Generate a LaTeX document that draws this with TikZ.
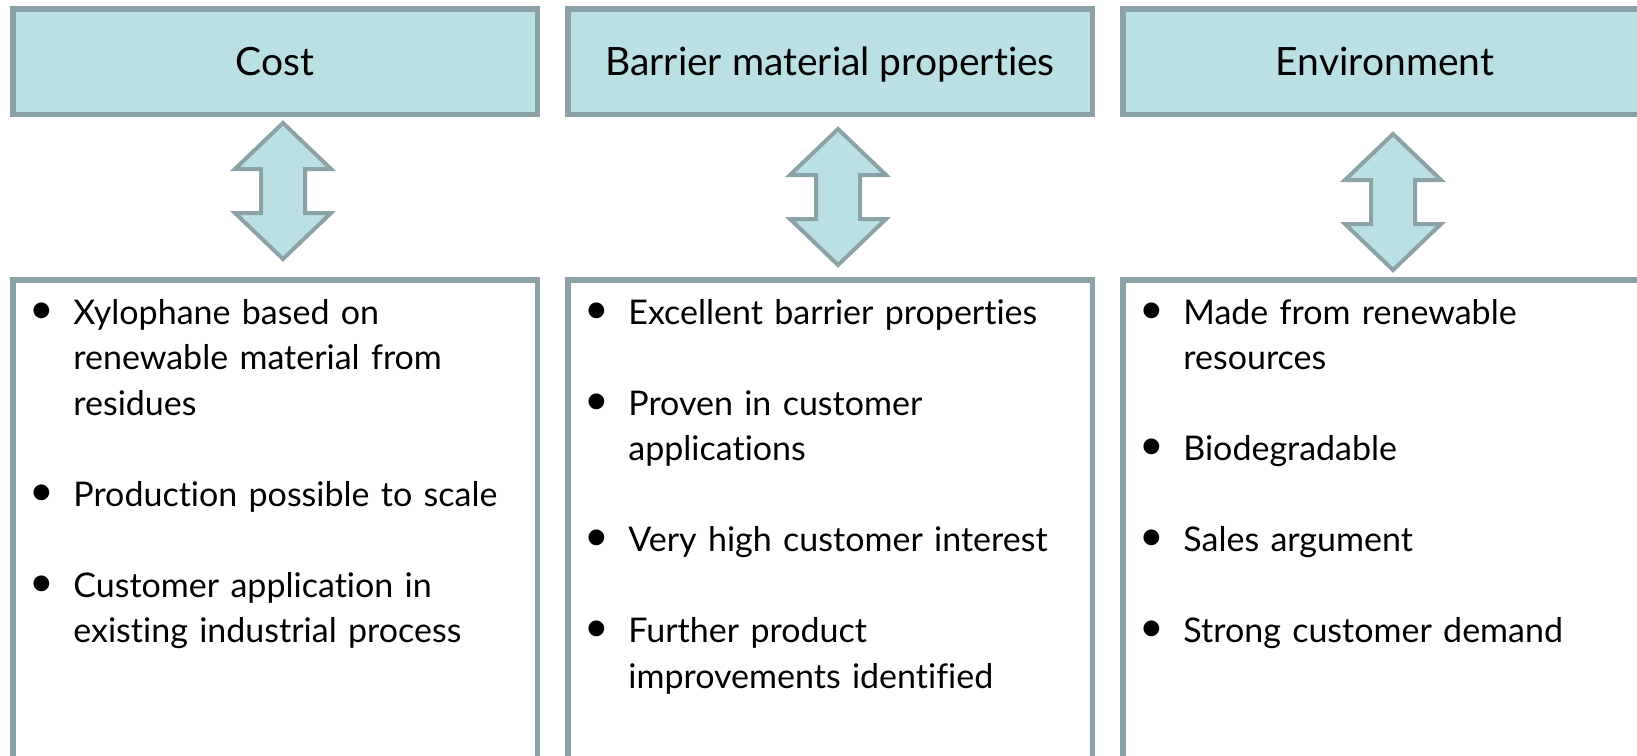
\documentclass[tikz,border=0pt]{standalone}
\usepackage{fontspec}
\setmainfont{Lato}[Ligatures={NoCommon}]
\definecolor{boxfill}{RGB}{186,224,227}
\definecolor{boxline}{RGB}{139,163,166}
\newcommand\bulitem{\llap{\raisebox{0.5pt}{\makebox[0pt][c]{\scalebox{1.25}{•}}}\hspace{16pt}}}
\tikzset{
 hdr/.style={draw=boxline, fill=boxfill, line width=2.75pt, minimum width=262.25pt, minimum height=52.75pt, inner sep=0pt, text height=14pt, text depth=0pt, font=\fontsize{19.5}{23}\selectfont},
 bodybox/.style={draw=boxline, fill=white, line width=2.75pt, minimum width=262.25pt, minimum height=258.75pt, inner sep=0pt},
 itm/.style={anchor=base west, inner sep=0pt, align=left, text width=240pt, font=\fontsize{17}{22.75}\selectfont},
 dblarrow/.style={draw=boxline, fill=boxfill, line width=2pt, line join=miter}
}
\begin{document}
\begin{tikzpicture}[x=0.5pt,y=-0.5pt]
\clip (0,0) rectangle (1637,755);
% header boxes
\node[hdr] (h1) at (275,61.5) {Cost};
\node[hdr] (h2) at (830,61.5) {Barrier material properties};
\node[hdr] (h3) at (1385,61.5) {Environment};
% body boxes
\node[bodybox] (b1) at (275,538.5) {};
\node[bodybox] (b2) at (830,538.5) {};
\node[bodybox] (b3) at (1385,538.5) {};
% double arrows
\coordinate (a1) at (283,191);
\coordinate (a2) at (838,197);
\coordinate (a3) at (1393,202);
\foreach \a in {a1,a2,a3}{
  \draw[dblarrow, shift={(\a)}] (0,-68) -- (48,-22) -- (22,-22) -- (22,22) -- (48,22) -- (0,68)
    -- (-48,22) -- (-22,22) -- (-22,-22) -- (-48,-22) -- cycle;
}
% column 1
\node[itm] (c1i1) at (73,324) {\bulitem Xylophane based on\\renewable material from\\residues};
\node[itm] (c1i2) at (73,506) {\bulitem Production possible to scale};
\node[itm] (c1i3) at (73,597) {\bulitem Customer application in\\existing industrial process};
% column 2
\node[itm] (c2i1) at (628,324) {\bulitem Excellent barrier properties};
\node[itm] (c2i2) at (628,415) {\bulitem Proven in customer\\applications};
\node[itm] (c2i3) at (628,551.5) {\bulitem Very high customer interest};
\node[itm] (c2i4) at (628,642.5) {\bulitem Further product\\improvements identified};
% column 3
\node[itm] (c3i1) at (1183,324) {\bulitem Made from renewable\\resources};
\node[itm] (c3i2) at (1183,460.5) {\bulitem Biodegradable};
\node[itm] (c3i3) at (1183,551.5) {\bulitem Sales argument};
\node[itm] (c3i4) at (1183,642.5) {\bulitem Strong customer demand};
\end{tikzpicture}
\end{document}
